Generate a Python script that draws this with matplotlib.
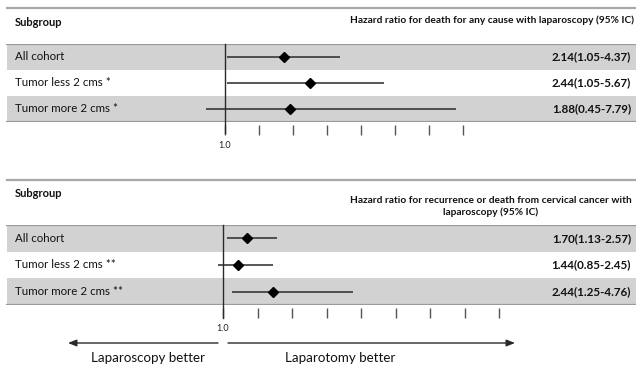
import matplotlib
matplotlib.use("Agg")
import matplotlib.pyplot as plt
from matplotlib.lines import Line2D
import matplotlib.transforms as mtransforms

plt.rcParams['font.family'] = ['Lato', 'DejaVu Sans']

# ---------------- data ----------------
subgroups_top = ["All cohort", "Tumor less 2 cms *", "Tumor more 2 cms *"]
hr_top = [2.14, 2.44, 1.88]
lo_top = [1.05, 1.05, 0.45]
hi_top = [4.37, 5.67, 7.79]
hr_top_marker = [2.74, 3.50, 2.91]          # diamond positions as drawn in the picture
ticks_top = [2, 3, 4, 5, 6, 7, 8]
title_top = "Hazard ratio for death for any cause with laparoscopy (95% IC)"

subgroups_bot = ["All cohort", "Tumor less 2 cms **", "Tumor more 2 cms **"]
hr_bot = [1.70, 1.44, 2.44]
lo_bot = [1.13, 0.85, 1.25]
hi_bot = [2.57, 2.45, 4.76]
ticks_bot = [2, 3, 4, 5, 6, 7, 8, 9]
title_bot = "Hazard ratio for recurrence or death from cervical cancer with\nlaparoscopy (95% IC)"

left_label = "Laparoscopy better"
right_label = "Laparotomy better"

# ---------------- layout ----------------
W, H = 636, 365
fig = plt.figure(figsize=(W / 100, H / 100), dpi=100)

BAND = "#d2d2d2"
RULE = "#9a9a9a"
INK = "#2a2a2a"


def fx(px):
    return px / W


def fy(py):
    return 1 - py / H


def panel(top_px, bot_px, one_px, unit_px, header_px, sub_y, title_y, title, title_x, title_ha,
          labels, hr, lo, hi, markers, ticks, vline_bot_px):
    ax = fig.add_axes([0, fy(bot_px), 1, (bot_px - top_px) / H])
    n = len(labels)
    ax.set_xlim(1 - one_px / unit_px, 1 + (W - one_px) / unit_px)
    ax.set_ylim(n, 0)
    for s in ax.spines.values():
        s.set_visible(False)
    ax.set_yticks([])
    # bands
    for i in range(n):
        if i % 2 == 0:
            ax.axhspan(i, i + 1, xmin=fx(7), xmax=1, color=BAND, lw=0, zorder=0)
    ax.axhline(0, xmin=fx(7), xmax=1, color=RULE, lw=1.6, zorder=1)
    ax.axhline(n, xmin=fx(7), xmax=1, color=RULE, lw=1.6, zorder=1)
    # header rule
    fig.add_artist(Line2D([fx(7), 1], [fy(header_px), fy(header_px)], color="#a8a8a8", lw=1.6))
    fig.text(fx(15), fy(sub_y), "Subgroup", fontsize=8, fontweight="bold",
             ha="left", va="center", color="#111")
    fig.text(title_x, fy(title_y), title, fontsize=7.3, fontweight="bold",
             ha=title_ha, va="center", color="#111", linespacing=1.3, multialignment="center")
    # reference line
    h = bot_px - top_px
    ax.axvline(1.0, ymin=-(vline_bot_px - bot_px) / h, ymax=1, color=INK, lw=1.0,
               clip_on=False, zorder=3)
    # CIs and points
    ys = [i + 0.5 for i in range(n)]
    for y, l, u, m in zip(ys, lo, hi, markers):
        ax.plot([l, u], [y, y], color=INK, lw=1.1, solid_capstyle="butt", zorder=4)
        ax.plot([m], [y], marker="D", color="black", markersize=5.2, zorder=5)
    # texts
    tr = ax.get_yaxis_transform()
    for y, lab, v, l, u in zip(ys, labels, hr, lo, hi):
        ax.text(fx(15), y, lab, transform=tr, fontsize=8.3, ha="left", va="center", color="#111")
        ax.text(fx(631), y, f"{v:.2f}({l:.2f}-{u:.2f})", transform=tr, fontsize=8.4,
                fontweight="bold", ha="right", va="center", color="#111")
    # ticks
    ax.set_xticks([1.0] + ticks)
    ax.set_xticklabels(["1.0"] + [""] * len(ticks))
    ax.spines["bottom"].set_position(("outward", 2))
    ax.tick_params(axis="x", direction="out", length=7, width=1.0, color="#555",
                   pad=5, labelsize=6.5, labelcolor="#222")
    return ax


ax1 = panel(44, 122, 225, 34.0, 8, 22, 20, title_top, fx(634), "right",
            subgroups_top, hr_top, lo_top, hi_top, hr_top_marker, ticks_top, 133)
ax2 = panel(225, 305, 223, 34.5, 180, 193, 206.5, title_bot, fx(491), "center",
            subgroups_bot, hr_bot, lo_bot, hi_bot, hr_bot, ticks_bot, 318)

# direction arrows
trb = mtransforms.blended_transform_factory(ax2.transData, fig.transFigure)
ya = fy(343)
ax2.annotate("", xy=(1 - (223 - 68) / 34.5, ya), xytext=(1 - 5 / 34.5, ya), xycoords=trb,
             textcoords=trb, annotation_clip=False,
             arrowprops=dict(arrowstyle="-|>,head_length=0.5,head_width=0.2", color=INK, lw=1.0,
                             shrinkA=0, shrinkB=0))
ax2.annotate("", xy=(1 + (515 - 223) / 34.5, ya), xytext=(1 + 5 / 34.5, ya), xycoords=trb,
             textcoords=trb, annotation_clip=False,
             arrowprops=dict(arrowstyle="-|>,head_length=0.5,head_width=0.2", color=INK, lw=1.0,
                             shrinkA=0, shrinkB=0))
fig.text(fx(148), fy(361.5), left_label, fontsize=9.6, ha="center", va="baseline", color="#111")
fig.text(fx(340), fy(361.5), right_label, fontsize=9.6, ha="center", va="baseline", color="#111")

fig.savefig("out.png", dpi=100)
